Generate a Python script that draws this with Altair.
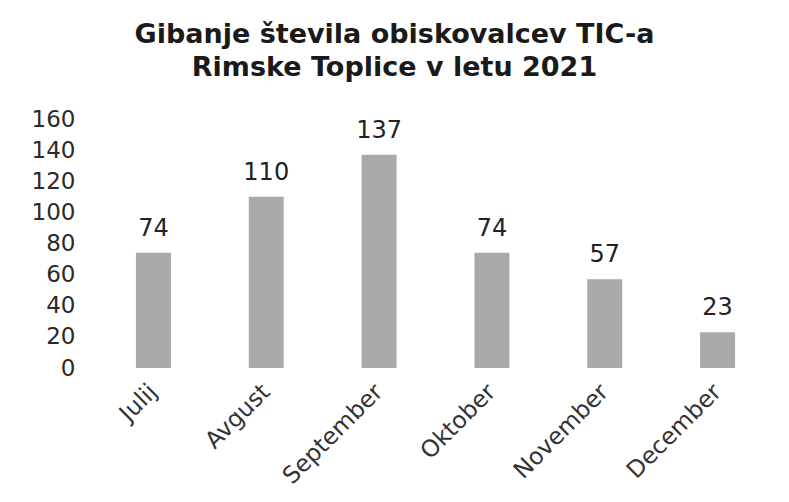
import altair as alt
import pandas as pd

months = ["Julij", "Avgust", "September", "Oktober", "November", "December"]
visitors = [74, 110, 137, 74, 57, 23]

df = pd.DataFrame({"mesec": months, "obiskovalci": visitors})

FONT = "DejaVu Sans"

base = alt.Chart(df).encode(
    x=alt.X("mesec:N", sort=months, title=None,
            scale=alt.Scale(paddingInner=0.69, paddingOuter=0.345),
            axis=alt.Axis(labelAngle=-45, labelAlign="right", labelBaseline="middle",
                          labelFontSize=23.5, labelColor="#333333", labelFont=FONT,
                          labelPadding=20, ticks=False, domain=False, grid=False)),
    y=alt.Y("obiskovalci:Q", title=None,
            scale=alt.Scale(domain=[0, 160]),
            axis=alt.Axis(values=list(range(0, 161, 20)), labelFontSize=23,
                          labelColor="#2a2a2a", labelFont=FONT, labelPadding=22,
                          ticks=False, domain=False, grid=False)),
)

bars = base.mark_bar(color="#a9a9a9")
labels = base.mark_text(dy=-24, fontSize=24, font=FONT, color="#222222").encode(
    text="obiskovalci:Q")

chart = (bars + labels).properties(
    width=677, height=249,
    title=alt.TitleParams(
        ["Gibanje števila obiskovalcev TIC-a", "Rimske Toplice v letu 2021"],
        font=FONT, fontSize=27, fontWeight="bold", color="#1a1a1a",
        lineHeight=33, anchor="middle", dx=-41, offset=26),
    autosize=alt.AutoSizeParams(type="none"),
    padding={"left": 89, "top": 111, "right": 5, "bottom": 125},
).configure_view(stroke=None)

chart.save("out.html", embed_options={"renderer": "svg", "actions": False})
